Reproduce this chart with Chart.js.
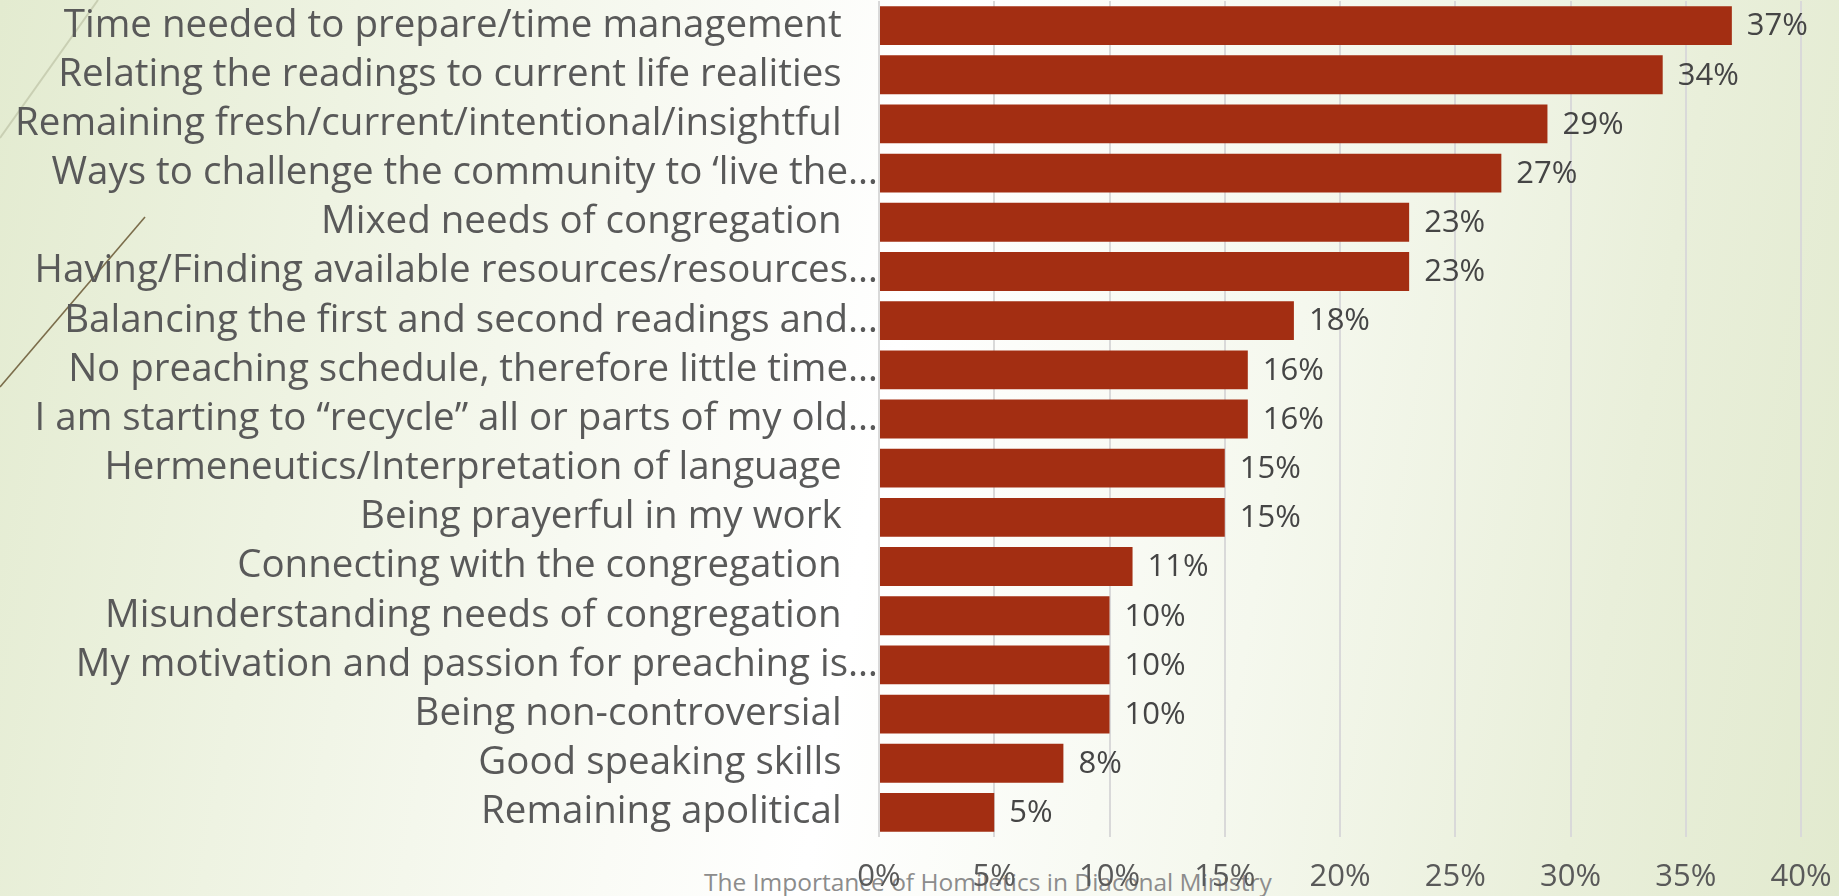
<!DOCTYPE html>
<html>
<head>
<meta charset="utf-8">
<script src="https://cdn.jsdelivr.net/npm/chart.js@4/dist/chart.umd.min.js"></script>
<style>
  html, body { margin: 0; padding: 0; }
  #slide {
    position: relative;
    width: 1839px;
    height: 896px;
    overflow: hidden;
    background: linear-gradient(100deg, #e3ebd0 0%, #eef3e2 18%, #fafbf6 38%, #ffffff 48%, #f5f8ee 68%, #e9efda 86%, #e2eacf 100%);
    font-family: "Open Sans", sans-serif;
  }
  #deco { position: absolute; left: 0; top: 0; }
  #footer {
    position: absolute;
    left: 704px;
    top: 865px;
    font-size: 24.5px;
    color: #8c8c8c;
    white-space: nowrap;
  }
  #salesChart { position: absolute; left: 0; top: 0; }
</style>
</head>
<body>
<div id="slide">
  <svg id="deco" width="1839" height="896">
    <line x1="0" y1="138" x2="98" y2="0" stroke="#c9cfb3" stroke-width="2" />
    <line x1="0" y1="387" x2="145" y2="217" stroke="#7b6d4b" stroke-width="1.6" />
  </svg>
  <div id="footer">The Importance of Homiletics in Diaconal Ministry</div>
  <canvas id="salesChart" width="1839" height="896"></canvas>
</div>
<script>
// ===== DATA =====
const categories = [
  'Time needed to prepare/time management',
  'Relating the readings to current life realities',
  'Remaining fresh/current/intentional/insightful',
  'Ways to challenge the community to \u2018live the\u2026',
  'Mixed needs of congregation',
  'Having/Finding available resources/resources\u2026',
  'Balancing the first and second readings and\u2026',
  'No preaching schedule, therefore little time\u2026',
  'I am starting to \u201crecycle\u201d all or parts of my old\u2026',
  'Hermeneutics/Interpretation of language',
  'Being prayerful in my work',
  'Connecting with the congregation',
  'Misunderstanding needs of congregation',
  'My motivation and passion for preaching is\u2026',
  'Being non-controversial',
  'Good speaking skills',
  'Remaining apolitical'
];
const percents = [37, 34, 29, 27, 23, 23, 18, 16, 16, 15, 15, 11, 10, 10, 10, 8, 5];
const xTicks = [0, 5, 10, 15, 20, 25, 30, 35, 40];

const BAR_COLOR = '#a32e12';
const TEXT_COLOR = '#595959';

// value labels at the end of each bar
const valueLabels = {
  id: 'valueLabels',
  afterDatasetsDraw(chart) {
    const { ctx } = chart;
    const meta = chart.getDatasetMeta(0);
    ctx.save();
    ctx.font = '31px "Open Sans", sans-serif';
    ctx.fillStyle = '#454545';
    ctx.textAlign = 'left';
    ctx.textBaseline = 'middle';
    meta.data.forEach((bar, i) => {
      ctx.fillText(percents[i] + '%', bar.x + 15, bar.y + 1);
    });
    ctx.restore();
  }
};

new Chart(document.getElementById('salesChart'), {
  type: 'bar',
  data: {
    labels: categories,
    datasets: [{
      data: percents,
      backgroundColor: BAR_COLOR,
      borderWidth: 0,
      barPercentage: 0.79,
      categoryPercentage: 1
    }]
  },
  options: {
    indexAxis: 'y',
    responsive: false,
    animation: false,
    layout: { padding: { top: 1, right: 38, bottom: 0, left: 0 } },
    plugins: {
      legend: { display: false },
      tooltip: { enabled: false }
    },
    scales: {
      x: {
        min: 0,
        max: 40,
        afterBuildTicks: s => { s.ticks = xTicks.map(v => ({ value: v })); },
        grid: { color: '#d9d9d9', lineWidth: 2, drawTicks: false },
        border: { display: false },
        ticks: {
          padding: 22,
          color: TEXT_COLOR,
          font: { family: 'Open Sans', size: 31 },
          callback: v => v + '%'
        },
        afterFit: s => {
          s.height = 59;
          s.paddingLeft = 0;
          s.paddingRight = 0;
        }
      },
      y: {
        grid: { display: false, drawTicks: false },
        border: { display: false },
        ticks: {
          autoSkip: false,
          padding: 1,
          color: TEXT_COLOR,
          font: { family: 'Open Sans', size: 38.5 },
          // untruncated labels sit a little further from the axis
          callback: (v, i) => categories[i].endsWith('\u2026') ? categories[i] : categories[i] + '   \u2009'
        },
        afterFit: s => {
          s.width = 879;
          s.paddingTop = 0;
          s.paddingBottom = 0;
        }
      }
    }
  },
  plugins: [valueLabels]
});
</script>
</body>
</html>
